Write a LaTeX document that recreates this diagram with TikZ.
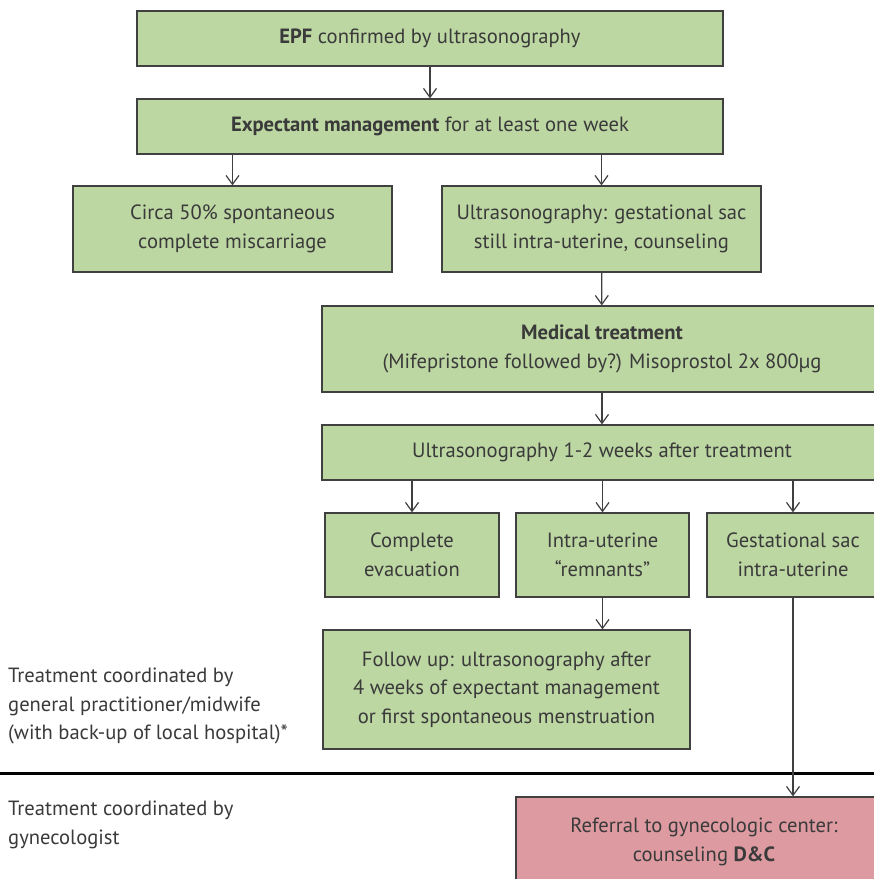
\documentclass[tikz,border=0pt]{standalone}
\usepackage{fontspec}
\setmainfont{PT Sans}
\usetikzlibrary{positioning,arrows.meta}
\definecolor{boxgreen}{RGB}{189,215,163}
\definecolor{boxpink}{RGB}{221,155,161}
\definecolor{linegray}{RGB}{64,64,64}
\definecolor{textgray}{RGB}{58,58,58}

\begin{document}
\begin{tikzpicture}[x=1pt,y=-1pt,
    every node/.style={font=\fontsize{20.6}{28.5}\selectfont, text=textgray, align=center},
    stepbox/.style={draw=linegray, line width=1.2pt, fill=boxgreen, inner sep=0pt},
    referbox/.style={stepbox, fill=boxpink},
    sidenote/.style={anchor=west, align=left, inner sep=0pt},
    flow/.style={-{Straight Barb[length=9pt,width=13pt]}, linegray, line width=1.2pt}]
  \useasboundingbox (0,0) rectangle (874,879);
  \clip (0,0) rectangle (874,879);
  % expectant part
  \node[stepbox, minimum width=586, minimum height=55] (epf) at (430,38.5) {\textbf{EPF} confirmed by ultrasonography};
  \node[stepbox, minimum width=586, minimum height=55] (expect) at (430,126.5) {\textbf{Expectant management} for at least one week};
  \node[stepbox, minimum width=319, minimum height=86] (circa) at (232.5,229) {Circa 50\% spontaneous\\complete miscarriage};
  \node[stepbox, minimum width=319, minimum height=86] (sono) at (601.5,229) {Ultrasonography: gestational sac\\still intra-uterine, counseling};
  % medical part
  \node[stepbox, minimum width=560, minimum height=86] (medical) at (602,349) {\textbf{Medical treatment}\\(Mifepristone followed by?) Misoprostol 2x 800µg};
  \node[stepbox, minimum width=560, minimum height=55] (check) at (602,452.5) {Ultrasonography 1-2 weeks after treatment};
  \node[stepbox, minimum width=174, minimum height=84] (complete) at (412,555) {Complete\\evacuation};
  \node[stepbox, minimum width=173, minimum height=84] (remnants) at (602.5,555) {Intra-uterine\\“remnants”};
  \node[stepbox, minimum width=172, minimum height=84] (sac) at (793,555) {Gestational sac\\intra-uterine};
  \node[stepbox, minimum width=367, minimum height=119] (followup) at (506.5,689.5) {Follow up: ultrasonography after\\4 weeks of expectant management\\or first spontaneous menstruation};
  \node[referbox, minimum width=376, minimum height=90] (referral) at (704,842) {Referral to gynecologic center:\\counseling \textbf{D\&C}};
  % who coordinates
  \node[sidenote] (gp) at (8,706) {Treatment coordinated by\\general practitioner/midwife\\(with back-up of local hospital)*};
  \node[sidenote] (gyn) at (8,825) {Treatment coordinated by\\gynecologist};
  \draw[line width=3pt, black] (0,773) -- (880,773);
  % arrows
  \foreach \a/\b in {epf/expect,sono/medical,medical/check}
    \draw[flow] (\a) -- (\b);
  \foreach \a/\b in {expect/circa,expect/sono,check/complete,check/remnants,check/sac}
    \draw[flow] (\a.south -| \b) -- (\b);
  \draw[flow] (remnants.south) -- (remnants.south |- followup.north);
  \draw[flow] (sac.south) -- (sac.south |- referral.north);
\end{tikzpicture}
\end{document}
